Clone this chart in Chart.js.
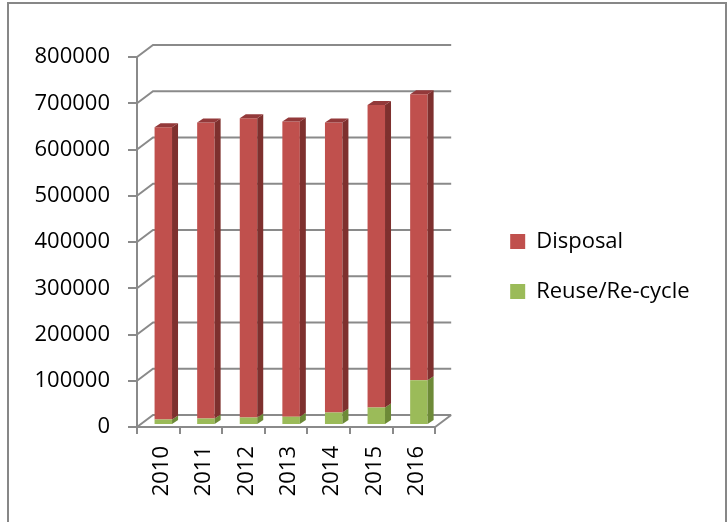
<!DOCTYPE html>
<html>
<head>
<meta charset="utf-8">
<script src="https://cdn.jsdelivr.net/npm/chart.js@4.4.0/dist/chart.umd.min.js"></script>
<style>
  body { margin: 0; background: #fff; }
  #wrap { position: relative; width: 727px; height: 522px; overflow: hidden; }
  #frame { position: absolute; left: 7px; top: 2px; width: 720px; height: 560px; border: 2px solid #878787; box-sizing: border-box; }
  canvas { position: absolute; left: 0; top: 0; }
</style>
</head>
<body>
<div id="wrap">
  <div id="frame"></div>
  <canvas id="chartResiduos" width="727" height="522"></canvas>
</div>
<script>
const years = ['2010', '2011', '2012', '2013', '2014', '2015', '2016'];
const reuse = [12000, 14000, 16000, 18000, 27000, 38000, 97000];
const disposal = [632000, 640000, 647000, 638000, 627000, 654000, 618000];
const yMax = 800000;
const yStep = 100000;

const gray = '#8a8a8a';
const font = { family: 'Open Sans', size: 22 };

// fake 3D: back wall offset, bar position in depth, bar depth
const WALL = { dx: 16, dy: -12 };
const BAR = { dx: 5, dy: -2 };
const DEPTH = { dx: 6, dy: -4 };
const LEGEND_SHIFT = { dx: 47, dy: -23 };

const sideColors = ['#6d8a37', '#7e302e'];
const topColors = ['#86a348', '#93393a'];

const wall3d = {
  id: 'wall3d',
  afterLayout(chart) {
    const lg = chart.legend;
    lg.left += LEGEND_SHIFT.dx;
    lg.right = chart.width;
    lg.top += LEGEND_SHIFT.dy;
    lg.bottom += LEGEND_SHIFT.dy;
  },
  beforeDatasetsDraw(chart) {
    const ctx = chart.ctx;
    const y = chart.scales.y;
    const { left, right, bottom } = chart.chartArea;
    ctx.save();
    ctx.strokeStyle = gray;
    ctx.lineWidth = 2;
    ctx.beginPath();
    y.ticks.forEach(t => {
      const py = y.getPixelForValue(t.value);
      ctx.moveTo(left, py);
      ctx.lineTo(left + WALL.dx, py + WALL.dy);
      ctx.lineTo(right + WALL.dx, py + WALL.dy);
    });
    ctx.moveTo(right, bottom);
    ctx.lineTo(right + WALL.dx, bottom + WALL.dy);
    ctx.stroke();
    ctx.restore();

    ctx.save();
    ctx.translate(BAR.dx, BAR.dy);
  },
  afterDatasetsDraw(chart) {
    const ctx = chart.ctx;
    const last = chart.data.datasets.length - 1;
    chart.data.datasets.forEach((ds, i) => {
      chart.getDatasetMeta(i).data.forEach(bar => {
        const p = bar.getProps(['x', 'y', 'base', 'width'], true);
        const l = p.x - p.width / 2, r = p.x + p.width / 2;
        ctx.fillStyle = sideColors[i];
        ctx.beginPath();
        ctx.moveTo(r, p.y);
        ctx.lineTo(r + DEPTH.dx, p.y + DEPTH.dy);
        ctx.lineTo(r + DEPTH.dx, p.base + DEPTH.dy);
        ctx.lineTo(r, p.base);
        ctx.closePath();
        ctx.fill();
        if (i === last) {
          ctx.fillStyle = topColors[i];
          ctx.beginPath();
          ctx.moveTo(l, p.y);
          ctx.lineTo(l + DEPTH.dx, p.y + DEPTH.dy);
          ctx.lineTo(r + DEPTH.dx, p.y + DEPTH.dy);
          ctx.lineTo(r, p.y);
          ctx.closePath();
          ctx.fill();
        }
      });
    });
    ctx.restore();
  }
};

const ctx = document.getElementById('chartResiduos');

const chart = new Chart(ctx, {
  type: 'bar',
  data: {
    labels: years,
    datasets: [{
      label: 'Reuse/Re-cycle',
      data: reuse,
      backgroundColor: '#9bbb59',
      barPercentage: 0.41,
      categoryPercentage: 1
    }, {
      label: 'Disposal',
      data: disposal,
      backgroundColor: '#c0504d',
      barPercentage: 0.41,
      categoryPercentage: 1
    }]
  },
  options: {
    responsive: false,
    animation: false,
    layout: { padding: { left: 0, top: 57, right: 200, bottom: 0 } },
    plugins: {
      tooltip: { enabled: false },
      legend: {
        position: 'right',
        reverse: true,
        labels: { font: font, color: '#000', boxWidth: 15, boxHeight: 15, padding: 28 }
      }
    },
    scales: {
      x: {
        stacked: true,
        afterFit: s => { s.height = 95; },
        grid: { drawOnChartArea: false, drawTicks: true, tickLength: 7, color: gray, lineWidth: 2, offset: true },
        border: { display: true, color: gray, width: 2 },
        ticks: { font: font, color: '#000', minRotation: 90, maxRotation: 90, padding: 12, labelOffset: 3 }
      },
      y: {
        stacked: true,
        min: 0,
        max: yMax,
        afterFit: s => { s.width = 137; },
        grid: { drawOnChartArea: false, drawTicks: true, tickLength: 9, color: gray, lineWidth: 2 },
        border: { display: true, color: gray, width: 2 },
        ticks: { font: font, color: '#000', stepSize: yStep, padding: 18, callback: v => String(v) }
      }
    }
  },
  plugins: [wall3d]
});

// keep the plot right edge where the reference has it
chart.options.layout.padding.right += chart.chartArea.right - 448.5;
chart.update();
</script>
</body>
</html>
